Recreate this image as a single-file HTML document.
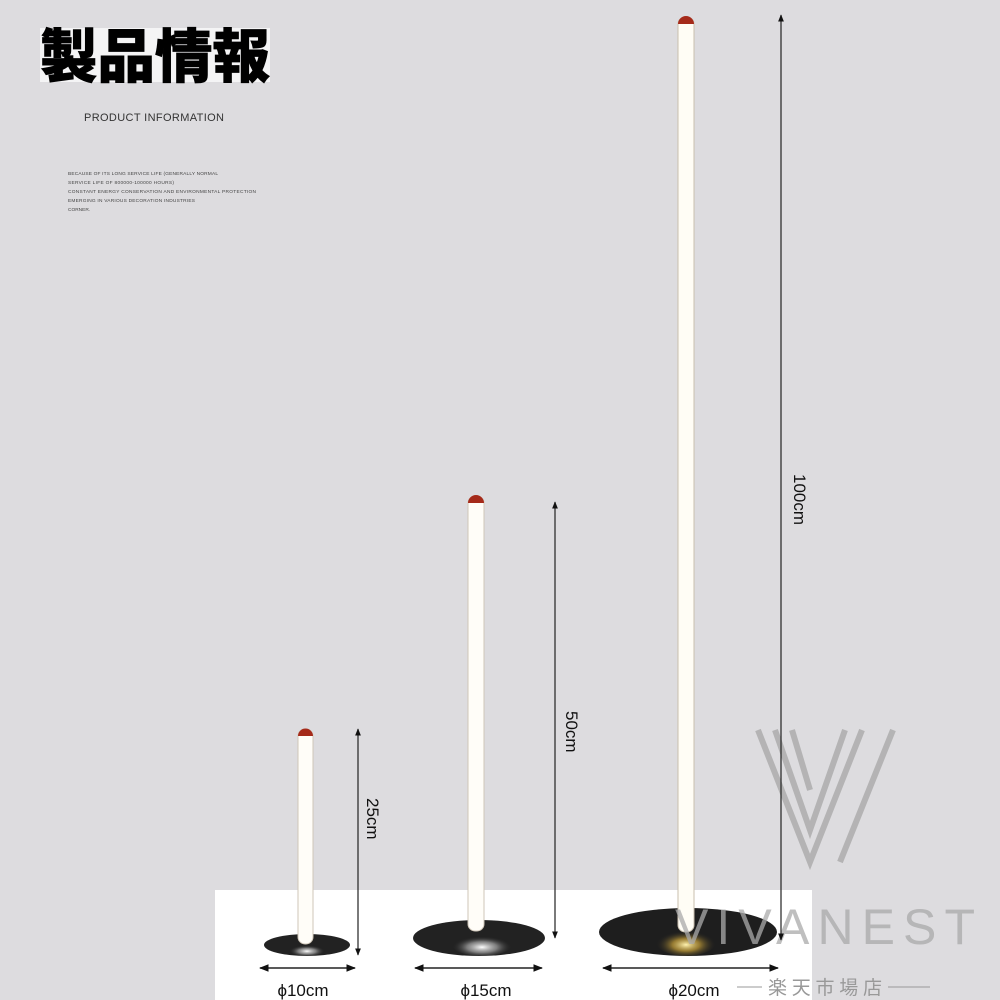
<!DOCTYPE html>
<html><head><meta charset="utf-8"><style>
html,body{margin:0;padding:0;width:1000px;height:1000px;overflow:hidden;background:#dddcdf;}
svg{display:block}
</style></head><body>
<svg width="1000" height="1000" viewBox="0 0 1000 1000" xmlns="http://www.w3.org/2000/svg" font-family="Liberation Sans, sans-serif">
<defs>
<radialGradient id="glowW" cx="50%" cy="60%" r="50%"><stop offset="0" stop-color="#fff"/><stop offset="0.5" stop-color="#bbb" stop-opacity="0.6"/><stop offset="1" stop-color="#222" stop-opacity="0"/></radialGradient>
<radialGradient id="glowY" cx="50%" cy="60%" r="50%"><stop offset="0" stop-color="#fff3b0"/><stop offset="0.45" stop-color="#c9a23a" stop-opacity="0.7"/><stop offset="1" stop-color="#222" stop-opacity="0"/></radialGradient>
<marker id="ah" viewBox="0 0 10 10" refX="9" refY="5" markerWidth="6" markerHeight="6" orient="auto-start-reverse"><path d="M0,1 L10,5 L0,9 z" fill="#111"/></marker>
</defs>
<rect width="1000" height="1000" fill="#dddcdf"/>
<rect x="215" y="890" width="597" height="110" fill="#fff"/>
<rect x="40" y="28" width="230" height="54" fill="#f4f4f5"/>
<text x="40" y="77" font-family="Noto Sans CJK JP, sans-serif" font-weight="900" font-size="58" fill="#000" stroke="#000" stroke-width="0.8" textLength="230" lengthAdjust="spacingAndGlyphs">製品情報</text>
<text x="84" y="121" font-size="11" fill="#333" textLength="140">PRODUCT INFORMATION</text>
<g font-size="4.8" fill="#444">
<text x="68" y="175" textLength="150">BECAUSE OF ITS LONG SERVICE LIFE (GENERALLY NORMAL</text>
<text x="68" y="184" textLength="106">SERVICE LIFE OF 800000-100000 HOURS)</text>
<text x="68" y="193" textLength="188">CONSTANT ENERGY CONSERVATION AND ENVIRONMENTAL PROTECTION</text>
<text x="68" y="202" textLength="127">EMERGING IN VARIOUS DECORATION INDUSTRIES</text>
<text x="68" y="211">CORNER.</text>
</g>
<g fill="none" stroke="#aaa" stroke-width="6" opacity="0.8">
<polyline points="758,730 810,862 862,730"/>
<polyline points="775,730 810,830 845,730"/>
<polyline points="792,730 810,790"/>
<polyline points="893,730 840,862"/>
</g>
<ellipse cx="307" cy="945" rx="43" ry="11" fill="#222"/>
<ellipse cx="307" cy="950" rx="18" ry="6" fill="url(#glowW)"/>
<rect x="298" y="729" width="15" height="215" rx="7" fill="#fffdf8" stroke="#cfc6b8" stroke-width="1"/>
<path d="M298,736 a7.5,7.5 0 0 1 15,0 z" fill="#a52a1a"/>
<ellipse cx="479" cy="938" rx="66" ry="18" fill="#222"/>
<ellipse cx="482" cy="945" rx="30" ry="11" fill="url(#glowW)"/>
<rect x="468" y="496" width="16" height="435" rx="7" fill="#fffdf8" stroke="#cfc6b8" stroke-width="1"/>
<path d="M468,503 a8,8 0 0 1 16,0 z" fill="#a52a1a"/>
<ellipse cx="688" cy="932" rx="89" ry="24" fill="#1e1e1e"/>
<ellipse cx="686" cy="942" rx="30" ry="14" fill="url(#glowY)"/>
<rect x="678" y="17" width="16" height="915" rx="7" fill="#fffdf5" stroke="#c9bfae" stroke-width="1"/>
<path d="M678,24 a8,8 0 0 1 16,0 z" fill="#a52a1a"/>
<text x="675" y="944" font-size="50" fill="#aaa" opacity="0.75" textLength="300" lengthAdjust="spacing">VIVANEST</text>
<g stroke="#222" stroke-width="1.2" marker-start="url(#ah)" marker-end="url(#ah)">
<line x1="358" y1="729" x2="358" y2="955"/>
<line x1="555" y1="502" x2="555" y2="938"/>
<line x1="781" y1="15" x2="781" y2="940"/>
</g>
<g stroke="#222" stroke-width="1.6" marker-start="url(#ah)" marker-end="url(#ah)">
<line x1="260" y1="968" x2="355" y2="968"/>
<line x1="415" y1="968" x2="542" y2="968"/>
<line x1="603" y1="968" x2="778" y2="968"/>
</g>
<g font-size="17" fill="#111">
<text transform="translate(367,798) rotate(90)">25cm</text>
<text transform="translate(566,711) rotate(90)">50cm</text>
<text transform="translate(794,474) rotate(90)">100cm</text>
</g>
<g font-size="17" fill="#111" text-anchor="middle">
<text x="303" y="996">ϕ10cm</text>
<text x="486" y="996">ϕ15cm</text>
<text x="694" y="996">ϕ20cm</text>
</g>
<line x1="737" y1="987" x2="762" y2="987" stroke="#999" stroke-width="1"/>
<line x1="888" y1="987" x2="930" y2="987" stroke="#999" stroke-width="1"/>
<text x="768" y="994" font-family="Noto Sans CJK JP, sans-serif" font-size="19" fill="#999" textLength="114">楽天市場店</text>
</svg>
</body></html>
